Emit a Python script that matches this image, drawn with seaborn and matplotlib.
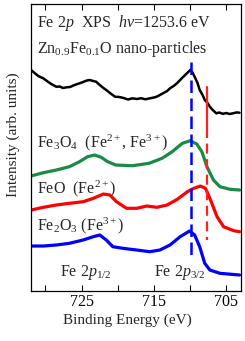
import numpy as np
import pandas as pd
import matplotlib
matplotlib.use("Agg")
import matplotlib.pyplot as plt
import seaborn as sns

# binding energies (eV) and offset intensities (arb. units)
be_zno = [732.0, 731.5, 731.0, 730.3, 729.8, 729.2, 728.5, 728.0, 727.6, 727.1, 726.6, 726.0,
          725.3, 724.8, 724.3, 723.9, 723.4, 723.0, 722.5, 722.0, 721.6, 721.0, 720.4, 719.8,
          719.2, 718.6, 718.0, 717.4, 716.8, 716.2, 715.6, 715.0, 714.6, 714.2, 713.7, 713.2,
          712.8, 712.3, 711.8, 711.4, 711.0, 710.5, 710.0, 709.7, 709.4, 709.0, 708.7, 708.3,
          708.0, 707.6, 707.3, 706.9, 706.4, 706.0, 705.5, 705.0, 704.6, 704.1, 703.6, 703.2]
int_zno = [221, 218, 215, 212.7, 210, 207, 204.3, 204.5, 203, 203.7, 204, 206,
           207.7, 209, 210.5, 211, 210, 209.3, 206, 203, 201, 197.5, 194.3, 194,
           193, 191.5, 192.7, 192, 192.8, 191.7, 192.7, 193.5, 194.5, 196, 198, 200,
           202.7, 205, 208, 211, 214, 217.5, 221, 218.5, 214.3, 208, 201, 196,
           191, 188, 184.3, 181, 177.7, 178.5, 177.2, 178, 177, 177.7, 178.6, 178.3]

be_fe3o4 = [732.0, 730.3, 728.5, 726.7, 725.3, 724.2, 723.2, 722.3, 721.4, 720.3, 718.0, 715.7,
            713.9, 712.5, 711.1, 710.0, 709.1, 708.4, 707.7, 706.8, 705.9, 704.5, 703.2]
int_fe3o4 = [115, 118.3, 121, 124.3, 129.3, 134.3, 136, 133.7, 129.3, 126, 125.3, 127.7,
             132.7, 139.3, 147.7, 150.3, 147, 139.3, 124.3, 111, 104.3, 101.7, 101]

be_feo = [732.0, 730.3, 728.5, 726.7, 724.8, 723.4, 722.0, 721.1, 720.2, 718.8, 717.4, 716.0,
          714.6, 713.2, 711.8, 710.4, 709.5, 708.6, 707.9, 707.2, 706.3, 705.4, 704.0, 703.2]
int_feo = [81, 83.7, 86, 87.7, 89.3, 92.7, 97, 96, 89.3, 82.7, 82.7, 85,
           83.7, 86, 91.7, 99.3, 102.7, 105, 102.7, 91, 74.3, 64.3, 60.3, 59.3]

be_fe2o3 = [732.0, 730.3, 728.5, 726.7, 724.8, 723.4, 722.5, 721.6, 720.7, 719.3, 717.4, 715.6,
            714.2, 712.8, 711.4, 710.1, 709.4, 708.7, 708.0, 707.3, 705.9, 703.2]
int_fe2o3 = [45, 45, 46, 47.7, 51, 54.3, 56, 51, 44.3, 42.7, 41, 39.3,
             41, 46, 54.3, 60, 56, 44.3, 27.7, 21, 17.7, 16]

fe3_pos = 709.9   # Fe3+ 2p3/2 peak marker
fe2_pos = 707.7   # Fe2+ 2p3/2 peak marker

tick_pos = [730, 725, 720, 715, 710, 705]
tick_lab = ["", "725", "", "715", "", "705"]

sns.set_theme(style="ticks")
plt.rcParams["font.family"] = ["Liberation Serif", "DejaVu Serif"]
plt.rcParams["mathtext.fontset"] = "custom"
plt.rcParams["mathtext.rm"] = "Liberation Serif"
plt.rcParams["mathtext.it"] = "Liberation Serif:italic"

fig = plt.figure(figsize=(2.45, 3.41), dpi=100)
ax = fig.add_axes([0.1265, 0.1466, 0.857, 0.8416])

curves = [(be_zno, int_zno, "black", 1.8),
          (be_fe3o4, int_fe3o4, "#1a8a45", 2.3),
          (be_feo, int_feo, "#ff0000", 2.3),
          (be_fe2o3, int_fe2o3, "#0000ff", 2.3)]
for be, inten, col, lw in curves:
    df = pd.DataFrame({"be": be, "inten": inten})
    sns.lineplot(data=df, x="be", y="inten", color=col, lw=lw, ax=ax, sort=False)

# peak markers
ax.plot([fe3_pos, fe3_pos], [229, 36], color="#0000ff", lw=1.8, dashes=(5, 2.2))
ax.plot([fe2_pos, fe2_pos], [204, 163], color="#ff2020", lw=1.6)
ax.plot([fe2_pos, fe2_pos], [163, 51], color="#ff2020", lw=1.6, dashes=(4.5, 2.5))

ax.set_xlim(732, 703)
ax.set_ylim(0, 287)
ax.set_xticks(tick_pos)
ax.set_xticklabels(tick_lab)
ax.set_yticks([])
ax.tick_params(axis="x", direction="in", top=True, length=4, width=0.8,
               labelsize=11.5, pad=2, colors="black")
for sp in ax.spines.values():
    sp.set_color("black")
    sp.set_linewidth(0.9)

fs = 11.5
ax.text(731.2, 264, r"Fe 2$p$  XPS  $h\nu$=1253.6 eV", fontsize=fs)
ax.text(731.2, 238, r"Zn$_{0.9}$Fe$_{0.1}$O nano-particles", fontsize=fs)
ax.text(731.2, 144, r"Fe$_3$O$_4$  (Fe$^{2+}$, Fe$^{3+}$)", fontsize=fs)
ax.text(731.2, 98, r"FeO  (Fe$^{2+}$)", fontsize=fs)
ax.text(731.2, 61, r"Fe$_2$O$_3$ (Fe$^{3+}$)", fontsize=fs)
ax.text(728.0, 15, r"Fe 2$p_{1/2}$", fontsize=fs)
ax.text(715.0, 15, r"Fe 2$p_{3/2}$", fontsize=fs)

ax.set_xlabel("Binding Energy (eV)", fontsize=11)
ax.xaxis.set_label_coords(0.457, -0.08)
ax.set_ylabel("Intensity (arb. units)", fontsize=11)
ax.yaxis.set_label_coords(-0.05, 0.545)

fig.savefig("out.png", dpi=100)
